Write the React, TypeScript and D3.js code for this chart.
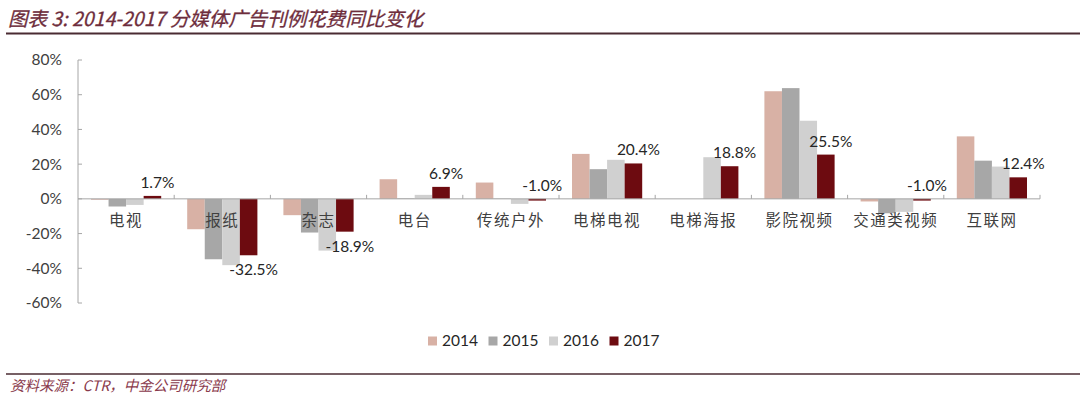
import React from "react";
import * as d3 from "d3";

const categories = ["电视", "报纸", "杂志", "电台", "传统户外", "电梯电视", "电梯海报", "影院视频", "交通类视频", "互联网"];
const years = ["2014", "2015", "2016", "2017"];
const v2014 = [-0.5, -17.5, -9.4, 11.3, 9.4, 25.9, 0, 62, -1.5, 36];
const v2015 = [-4.4, -34.8, -19.4, 0.3, 0.2, 17.1, 0, 63.8, -8.3, 22];
const v2016 = [-3.5, -38.2, -29.8, 2.3, -2.9, 22.5, 24, 45, -7.5, 18.6];
const v2017 = [1.7, -32.5, -18.9, 6.9, -1.0, 20.4, 18.8, 25.5, -1.0, 12.4];
const yTicks = [-60, -40, -20, 0, 20, 40, 60, 80];
const colors = ["#d8b1a5", "#a7a7a7", "#d0d0d0", "#6d0b10"];

const series = [v2014, v2015, v2016, v2017];
const numFont = "Lato, 'Open Sans', sans-serif";
const cjkFont = "'Noto Sans CJK SC', sans-serif";

export default function App() {
  const width = 1080;
  const height = 397;
  const left = 78;
  const right = 1040;

  const y = d3.scaleLinear().domain([-60, 80]).range([303, 60]);
  const x = d3.scaleBand().domain(categories).range([left, right]).padding(0);
  const gap = 13;
  const xs = d3
    .scaleBand()
    .domain(years)
    .range([gap, x.bandwidth() - gap])
    .padding(0);

  const y0 = y(0);

  return (
    <svg
      width={width}
      height={height}
      style={{ position: "absolute", left: 0, top: 0, background: "#fff" }}
    >
      {/* title */}
      <text
        x={8}
        y={26}
        fontSize={19.5}
        fontStyle="italic"
        fill="#6e2d3c"
        fontFamily={cjkFont}
        stroke="#6e2d3c"
        strokeWidth={0.3}
      >
        图表 3: 2014-2017 分媒体广告刊例花费同比变化
      </text>
      <line x1={6} x2={1080} y1={33.5} y2={33.5} stroke="#4a2b32" strokeWidth={2} />

      {/* y axis */}
      <line x1={left} x2={left} y1={y(80)} y2={y(-60)} stroke="#a6a6a6" />
      {yTicks.map((t) => (
        <g key={t}>
          <line x1={left} x2={left + 4} y1={y(t)} y2={y(t)} stroke="#a6a6a6" />
          <text
            x={62}
            y={y(t)}
            dy="0.35em"
            textAnchor="end"
            fontSize={15.5}
            fill="#404040"
            fontFamily={numFont}
          >
            {t}%
          </text>
        </g>
      ))}

      {/* bars */}
      {categories.map((c, i) => (
        <g key={c} transform={`translate(${x(c)},0)`}>
          {series.map((s, j) => {
            const v = s[i];
            if (v === 0) return null;
            return (
              <rect
                key={j}
                x={xs(years[j])}
                y={Math.min(y(v), y0)}
                width={xs.bandwidth()}
                height={Math.abs(y(v) - y0)}
                fill={colors[j]}
              />
            );
          })}
        </g>
      ))}

      {/* x axis */}
      <line x1={left} x2={right} y1={y0} y2={y0} stroke="#a6a6a6" />
      {categories.map((c) => (
        <line
          key={c}
          x1={(x(c) ?? 0) + x.bandwidth()}
          x2={(x(c) ?? 0) + x.bandwidth()}
          y1={y0}
          y2={y0 - 4}
          stroke="#a6a6a6"
        />
      ))}
      {categories.map((c) => (
        <text
          key={c}
          x={(x(c) ?? 0) + x.bandwidth() / 2}
          y={y0 + 27}
          textAnchor="middle"
          fontSize={15.5}
          fill="#404040"
          fontFamily={cjkFont}
          letterSpacing={1.5}
        >
          {c}
        </text>
      ))}

      {/* data labels for 2017 */}
      {categories.map((c, i) => {
        const v = v2017[i];
        const cx = (x(c) ?? 0) + (xs("2017") ?? 0) + xs.bandwidth() / 2 + 5;
        const below = v < -5;
        const ty = below ? y(v) + 20 : Math.min(y(v), y0) - 8;
        return (
          <text
            key={c}
            x={cx}
            y={ty}
            textAnchor="middle"
            fontSize={15.5}
            fill="#262626"
            fontFamily={numFont}
          >
            {v.toFixed(1)}%
          </text>
        );
      })}

      {/* legend */}
      {years.map((yr, j) => (
        <g key={yr} transform={`translate(${428 + j * 60.5},341)`}>
          <rect x={0} y={-4.5} width={9} height={9} fill={colors[j]} />
          <text x={14} y={0} dy="0.35em" fontSize={15.5} fill="#262626" fontFamily={numFont}>
            {yr}
          </text>
        </g>
      ))}

      {/* footer */}
      <line x1={6} x2={1080} y1={374} y2={374} stroke="#4a2b32" strokeWidth={1.5} />
      <text
        x={10}
        y={391}
        fontSize={14.5}
        fontStyle="italic"
        fill="#8a3a4c"
        fontFamily={cjkFont}
      >
        资料来源：CTR，中金公司研究部
      </text>
    </svg>
  );
}
